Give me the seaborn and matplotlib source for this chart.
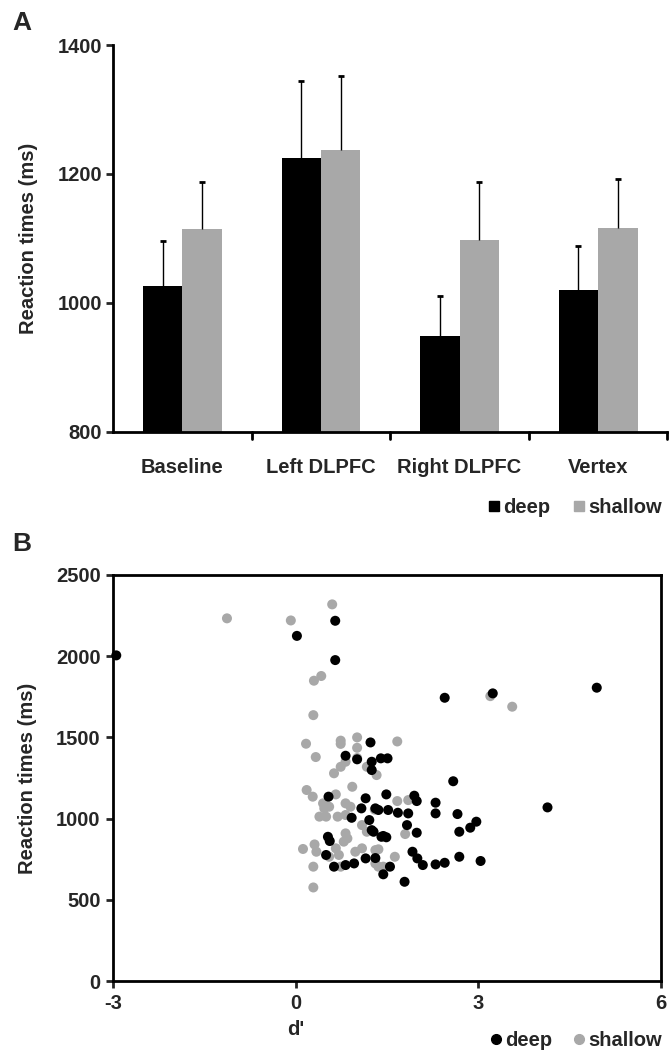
import numpy as np
import pandas as pd
import matplotlib
matplotlib.use("Agg")
import matplotlib.pyplot as plt
from matplotlib.lines import Line2D
import seaborn as sns

# ---------------- data ----------------
conditions = ["Baseline", "Left DLPFC", "Right DLPFC", "Vertex"]
depth_levels = ["deep", "shallow"]
rt_deep = [1026, 1224, 949, 1020]
rt_shallow = [1114, 1237, 1098, 1116]
err_deep = [70, 120, 62, 68]
err_shallow = [74, 115, 90, 76]

deep_dprime = [-2.95, 0.02, 0.65, 0.65, 2.45, 3.24, 4.95, 1.23, 0.82, 1.01, 1.25, 1.40, 1.51,
               1.25, 2.59, 4.14, 1.49, 1.95, 1.99, 2.30, 2.30, 2.66, 1.85, 1.68, 1.52, 1.21,
               1.83, 2.97, 2.87, 2.69, 1.99, 1.28, 1.44, 1.49, 1.92, 2.00, 2.09, 2.30, 2.45,
               2.69, 3.04, 1.79, 1.44, 1.55, 1.31, 0.54, 1.15, 1.08, 1.31, 0.92, 0.53, 0.56,
               0.50, 1.15, 0.63, 0.82, 0.96, 1.25, 1.36, 1.41]
deep_rt = [2005, 2125, 2218, 1976, 1744, 1771, 1806, 1469, 1387, 1365, 1350, 1371, 1371,
           1299, 1230, 1069, 1149, 1141, 1108, 1098, 1032, 1028, 1032, 1036, 1053, 991,
           960, 981, 944, 919, 913, 919, 893, 885, 796, 755, 714, 718, 728,
           765, 739, 611, 657, 704, 757, 1135, 1125, 1063, 1063, 1005, 888, 862,
           776, 755, 704, 714, 724, 929, 1053, 888]

shallow_dprime = [-1.13, -0.08, 0.60, 0.30, 0.42, 0.29, 0.17, 0.33, 0.74, 0.74, 1.01, 1.01,
                  1.01, 0.63, 0.74, 0.82, 3.20, 3.56, 1.67, 1.33, 1.17, 0.93, 0.18, 0.28,
                  0.66, 0.45, 0.55, 0.82, 0.90, 1.67, 1.85, 1.80, 1.36, 1.63, 1.36, 0.39,
                  0.47, 0.69, 1.09, 1.17, 0.82, 0.85, 0.12, 0.31, 0.34, 0.66, 0.71, 0.98,
                  1.31, 0.74, 0.29, 0.29, 1.44, 1.31, 0.82, 1.09, 1.30, 0.55, 0.50, 0.79]
shallow_rt = [2233, 2220, 2319, 1849, 1878, 1637, 1461, 1379, 1480, 1460, 1500, 1436,
              1373, 1279, 1319, 1350, 1754, 1689, 1475, 1268, 1319, 1196, 1176, 1135,
              1149, 1094, 1073, 1094, 1073, 1108, 1114, 905, 811, 765, 704, 1012,
              1063, 1012, 960, 919, 909, 878, 813, 841, 796, 817, 776, 796,
              806, 704, 704, 576, 704, 724, 1022, 817, 1055, 765, 1012, 858]

dx_ticks = [-3, 0, 3, 6]
rt_ticks_a = [800, 1000, 1200, 1400]
rt_ticks_b = [0, 500, 1000, 1500, 2000, 2500]

# ---------------- style ----------------
sns.set_theme(style="white")
plt.rcParams["font.family"] = ["Liberation Sans", "DejaVu Sans"]
plt.rcParams["font.weight"] = "bold"
BLACK = "#000000"
GREY = "#a8a8a8"
palette = {"deep": BLACK, "shallow": GREY}
FS = 14.5
LW = 2.0

fig = plt.figure(figsize=(6.7, 10.5), dpi=100)

# ---------------- panel A ----------------
axA = fig.add_axes([0.169, 0.589, 0.827, 0.368])
dfA = pd.DataFrame({
    "condition": conditions * 2,
    "depth": ["deep"] * 4 + ["shallow"] * 4,
    "rt": rt_deep + rt_shallow,
})
sns.barplot(data=dfA, x="condition", y="rt", hue="depth", hue_order=depth_levels,
            order=conditions, palette=palette, width=0.57, gap=0, errorbar=None,
            saturation=1, legend=False, ax=axA, linewidth=0)
errs = err_deep + err_shallow
means = rt_deep + rt_shallow
bars = [p for p in axA.patches][:8]
for p, m, e in zip(bars, means, errs):
    xc = p.get_x() + p.get_width() / 2
    _, caps, _ = axA.errorbar([xc], [m], yerr=[[0], [e]], fmt="none", ecolor="black",
                              elinewidth=1.0, capsize=2.5, capthick=2.0)
    for c in caps:
        if abs(c.get_ydata()[0] - m) < 1e-6:
            c.set_visible(False)
axA.set_ylim(800, 1400)
axA.set_xlim(-0.5, 3.5)
axA.set_yticks(rt_ticks_a)
axA.set_yticklabels([str(v) for v in rt_ticks_a], fontsize=FS, fontweight="bold")
axA.set_xticks([0, 1, 2, 3])
axA.set_xticklabels(conditions, fontsize=FS, fontweight="bold")
axA.tick_params(axis="x", length=0, pad=19)
for xb in [0.5, 1.5, 2.5, 3.5]:
    axA.plot([xb, xb], [0, -0.018], transform=axA.get_xaxis_transform(),
             color="black", lw=LW, clip_on=False)
axA.tick_params(axis="y", length=5, width=LW, direction="out", left=True, pad=3)
axA.set_xlabel("")
axA.set_ylabel("Reaction times (ms)", fontsize=FS, fontweight="bold", labelpad=14)
for s in ["top", "right"]:
    axA.spines[s].set_visible(False)
for s in ["left", "bottom"]:
    axA.spines[s].set_color("black")
    axA.spines[s].set_linewidth(LW)

hA = [Line2D([], [], marker="s", ls="none", color=BLACK, markersize=7),
      Line2D([], [], marker="s", ls="none", color=GREY, markersize=7)]
fig.legend(hA, depth_levels, loc="lower right", bbox_to_anchor=(1.015, 0.49),
           ncol=2, frameon=False, handletextpad=0.0, columnspacing=1.0,
           handlelength=0.9, prop={"weight": "bold", "size": FS})
fig.text(0.018, 0.99, "A", fontsize=19, fontweight="bold", va="top")

# ---------------- panel B ----------------
axB = fig.add_axes([0.169, 0.0657, 0.817, 0.3867])
dfB = pd.DataFrame({
    "dprime": deep_dprime + shallow_dprime,
    "rt": deep_rt + shallow_rt,
    "depth": ["deep"] * len(deep_rt) + ["shallow"] * len(shallow_rt),
})
sns.scatterplot(data=dfB.iloc[::-1], x="dprime", y="rt", hue="depth", palette=palette,
                hue_order=depth_levels, s=52, linewidth=0, legend=False, ax=axB,
                clip_on=False)
axB.set_xlim(-3, 6)
axB.set_ylim(0, 2500)
axB.set_xticks(dx_ticks)
axB.set_xticklabels([str(v) for v in dx_ticks], fontsize=FS, fontweight="bold")
axB.set_yticks(rt_ticks_b)
axB.set_yticklabels([str(v) for v in rt_ticks_b], fontsize=FS, fontweight="bold")
axB.tick_params(axis="both", length=5, width=LW, direction="out",
                left=True, bottom=True, pad=4)
axB.set_xlabel("")
axB.text(0, -0.095, "d'", transform=axB.get_xaxis_transform(), ha="center",
         va="top", fontsize=FS, fontweight="bold")
axB.set_ylabel("Reaction times (ms)", fontsize=FS, fontweight="bold", labelpad=14)
for s in axB.spines.values():
    s.set_visible(True)
    s.set_color("black")
    s.set_linewidth(LW)

hB = [Line2D([], [], marker="o", ls="none", color=BLACK, markersize=7),
      Line2D([], [], marker="o", ls="none", color=GREY, markersize=7)]
fig.legend(hB, depth_levels, loc="lower right", bbox_to_anchor=(1.015, -0.017),
           ncol=2, frameon=False, handletextpad=0.0, columnspacing=0.9,
           handlelength=0.9, prop={"weight": "bold", "size": FS})
fig.text(0.018, 0.493, "B", fontsize=19, fontweight="bold", va="top")

fig.savefig("out.png", dpi=100)
